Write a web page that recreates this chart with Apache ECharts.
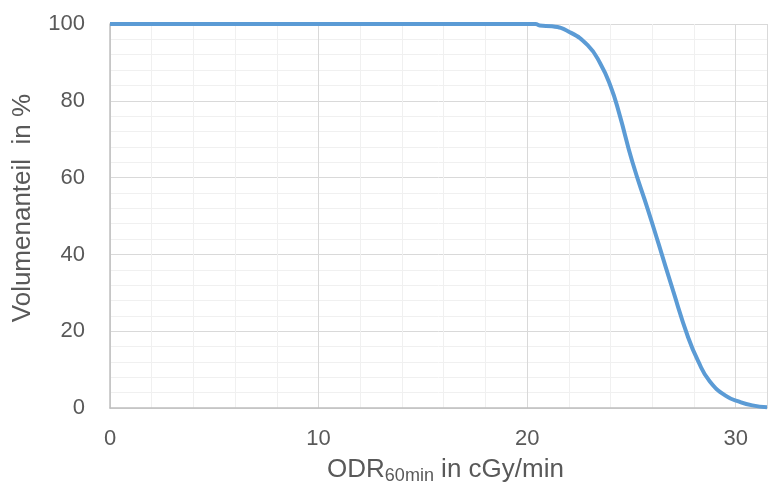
<!DOCTYPE html>
<html>
<head>
<meta charset="utf-8">
<script src="https://cdn.jsdelivr.net/npm/echarts@6/dist/echarts.min.js"></script>
<style>html,body{margin:0;padding:0;background:#fff}#c{width:768px;height:490px}</style>
</head>
<body>
<div id="c"></div>
<script>
var odr =    [0,   10,  20,  20.4, 20.6, 21.2, 22.0, 22.9, 23.5, 24.0, 24.4, 25.05, 25.8, 26.3, 27.0, 27.7, 28.2, 28.75, 29.55, 30.2, 30.8, 31.5];
var volume = [100, 100, 100, 100,  99.6, 99.4, 98.0, 94.5, 89.8, 83.8, 77.0, 64.0,  51.5, 42.8, 30.5, 18.7, 12.2, 7.0,   3.1,   1.6,  0.7,  0.2];
var xTicks = [0, 10, 20, 30];
var yTicks = [0, 20, 40, 60, 80, 100];
var xTitle = 'ODR';
var xTitleSub = '60min';
var xTitleRest = ' in cGy/min';
var yTitle = 'Volumenanteil  in %';

var chart = echarts.init(document.getElementById('c'));
var font = 'Liberation Sans, Arial, sans-serif';
var grey = '#595959';
chart.setOption({
  animation: false,
  grid: {left: 110, right: 1, top: 24, bottom: 81},
  xAxis: {
    type: 'value', min: 0, max: 31.5, interval: 10,
    name: '{a|' + xTitle + '}{s|' + xTitleSub + '}{a|' + xTitleRest + '}',
    nameLocation: 'middle', nameGap: 30,
    nameTextStyle: {padding: [0, 0, 0, 14], rich: {
      a: {fontFamily: font, fontSize: 26, color: grey, lineHeight: 30},
      s: {fontFamily: font, fontSize: 18, color: grey, lineHeight: 30, padding: [12, 0, 0, 0]}
    }},
    axisLine: {show: true, lineStyle: {color: '#bfbfbf', width: 1.5}},
    axisTick: {show: false},
    axisLabel: {fontFamily: font, fontSize: 22, color: grey, margin: 20, showMaxLabel: false,
      formatter: function(v){ return xTicks.indexOf(v) >= 0 ? String(v) : ''; }},
    splitLine: {show: true, lineStyle: {color: '#d9d9d9', width: 1}},
    minorTick: {show: false, splitNumber: 5},
    minorSplitLine: {show: true, lineStyle: {color: '#f0f0f0', width: 1}}
  },
  yAxis: {
    type: 'value', min: 0, max: 100, interval: 20,
    name: yTitle,
    nameLocation: 'middle', nameGap: 74,
    nameTextStyle: {fontFamily: font, fontSize: 26, color: grey, padding: [0, 0, 0, 16]},
    axisLine: {show: true, lineStyle: {color: '#bfbfbf', width: 1.5}},
    axisTick: {show: false},
    axisLabel: {fontFamily: font, fontSize: 22, color: grey, margin: 25,
      formatter: function(v){ return yTicks.indexOf(v) >= 0 ? String(v) : ''; }},
    splitLine: {show: true, lineStyle: {color: '#d9d9d9', width: 1}},
    minorTick: {show: false, splitNumber: 5},
    minorSplitLine: {show: true, lineStyle: {color: '#f0f0f0', width: 1}}
  },
  series: [{
    type: 'line',
    data: odr.map(function(x, i){ return [x, volume[i]]; }),
    smooth: 0.5,
    showSymbol: false,
    lineStyle: {color: '#5b9bd5', width: 4},
    clip: false
  }]
});
</script>
</body>
</html>
